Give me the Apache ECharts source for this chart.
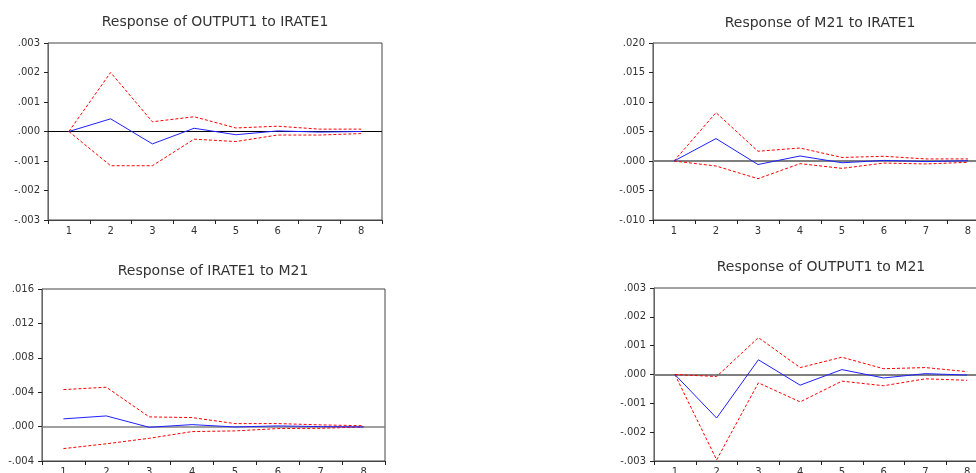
<!DOCTYPE html>
<html>
<head>
<meta charset="utf-8">
<script src="https://cdn.jsdelivr.net/npm/echarts@6/dist/echarts.min.js"></script>
<style>
html,body{margin:0;padding:0;background:#fff;}
#chart{width:976px;height:473px;}
</style>
</head>
<body>
<div id="chart"></div>
<script>
// ---- data ----
const periods = ['1','2','3','4','5','6','7','8'];

const titles = [
  'Response of OUTPUT1 to IRATE1',
  'Response of M21 to IRATE1',
  'Response of IRATE1 to M21',
  'Response of OUTPUT1 to M21'
];

// panel 1: OUTPUT1 to IRATE1
const p1Resp  = [0, 0.00043, -0.00042, 0.00011, -0.00011, 0.00002, -0.00002, 0.0000];
const p1Upper = [0, 0.00200, 0.00033, 0.00050, 0.00012, 0.00018, 0.00008, 0.00008];
const p1Lower = [0, -0.00116, -0.00116, -0.00026, -0.00034, -0.00012, -0.00012, -0.00007];

// panel 2: M21 to IRATE1
const p2Resp  = [0, 0.0038, -0.0006, 0.00085, -0.0003, 0.0001, -0.0001, 0.00005];
const p2Upper = [0, 0.0082, 0.00165, 0.0022, 0.0006, 0.0008, 0.00035, 0.00035];
const p2Lower = [0, -0.00085, -0.0030, -0.00045, -0.00125, -0.00035, -0.0005, -0.00022];

// panel 3: IRATE1 to M21
const p3Resp  = [0.0009, 0.00124, -0.00008, 0.00023, -0.00004, 0.00008, 0.0, -0.00004];
const p3Upper = [0.0043, 0.00458, 0.00113, 0.00105, 0.00035, 0.00035, 0.0002, 0.0001];
const p3Lower = [-0.00256, -0.0020, -0.00136, -0.00058, -0.0005, -0.00023, -0.0002, -0.00004];

// panel 4: OUTPUT1 to M21
const p4Resp  = [0, -0.00151, 0.00051, -0.00037, 0.00017, -0.00012, 0.00003, -0.00002];
const p4Upper = [0, -0.00007, 0.00128, 0.00024, 0.0006, 0.0002, 0.00024, 0.0001];
const p4Lower = [0, -0.00296, -0.00029, -0.00095, -0.00023, -0.00039, -0.00015, -0.0002];

// y-axis tick ranges [min, max, interval]
const yMins = [-0.003, -0.010, -0.004, -0.003];
const yMaxs = [0.003, 0.020, 0.016, 0.003];
const yIntervals = [0.001, 0.005, 0.004, 0.001];

const responses = [p1Resp, p2Resp, p3Resp, p4Resp];
const uppers = [p1Upper, p2Upper, p3Upper, p4Upper];
const lowers = [p1Lower, p2Lower, p3Lower, p4Lower];

// ---- layout ----
const grids = [
  {left: 48,  top: 43,  width: 334, height: 177},
  {left: 653, top: 43,  width: 336, height: 177},
  {left: 42,  top: 289, width: 343, height: 172},
  {left: 654, top: 288, width: 334, height: 173}
];
const xLabelMargins = [6, 6, 6, 6];
const titlePos = [[215, 22], [820, 23], [213, 271], [821, 267]];
const zeroColors = ['#000000', '#808080', '#808080', '#808080'];
const zeroWidths = [1, 2, 1.5, 2];

const FONT = 'DejaVu Sans';

function fmt(v) {
  if (Math.abs(v) < 1e-9) return '.000';
  const s = Math.abs(v).toFixed(3).replace(/^0/, '');
  return (v < 0 ? '-' : '') + s;
}

const option = {
  animation: false,
  backgroundColor: '#ffffff',
  grid: grids.map(g => Object.assign({
    show: true, borderColor: '#444', borderWidth: 1, backgroundColor: 'transparent',
    containLabel: false, outerBoundsMode: 'none'
  }, g)),
  xAxis: grids.map((g, i) => ({
    type: 'category',
    gridIndex: i,
    data: periods,
    boundaryGap: true,
    axisLine: {show: true, onZero: false, lineStyle: {color: '#444', width: 1}},
    axisTick: {show: true, inside: false, length: 4, alignWithLabel: false, lineStyle: {color: '#222'}},
    axisLabel: {show: true, margin: xLabelMargins[i], color: '#333', fontFamily: FONT, fontSize: 10, interval: 0},
    splitLine: {show: false}
  })),
  yAxis: grids.map((g, i) => ({
    type: 'value',
    gridIndex: i,
    min: yMins[i],
    max: yMaxs[i],
    interval: yIntervals[i],
    axisLine: {show: true, lineStyle: {color: '#666', width: 1}},
    axisTick: {show: true, inside: false, length: 4, lineStyle: {color: '#222'}},
    axisLabel: {show: true, margin: 8, color: '#333', fontFamily: FONT, fontSize: 10, formatter: fmt},
    splitLine: {show: false}
  })),
  graphic: titles.map((t, i) => ({
    type: 'text',
    x: titlePos[i][0],
    y: titlePos[i][1],
    silent: true,
    style: {
      text: t,
      fill: '#333',
      font: '14px "' + FONT + '"',
      textAlign: 'center',
      textVerticalAlign: 'middle'
    }
  })),
  series: []
};

for (let i = 0; i < 4; i++) {
  option.series.push({
    type: 'line',
    xAxisIndex: i, yAxisIndex: i,
    data: uppers[i],
    showSymbol: false, symbol: 'none',
    lineStyle: {color: '#ff0000', width: 1, type: [3, 2]},
    z: 3
  });
  option.series.push({
    type: 'line',
    xAxisIndex: i, yAxisIndex: i,
    data: lowers[i],
    showSymbol: false, symbol: 'none',
    lineStyle: {color: '#ff0000', width: 1, type: [3, 2]},
    z: 3
  });
  option.series.push({
    type: 'line',
    xAxisIndex: i, yAxisIndex: i,
    data: responses[i],
    showSymbol: false, symbol: 'none',
    lineStyle: {color: '#2020ff', width: 1},
    z: 4,
    markLine: {
      silent: true,
      symbol: ['none', 'none'],
      label: {show: false},
      lineStyle: {color: zeroColors[i], width: zeroWidths[i], type: 'solid'},
      data: [{yAxis: 0}],
      z: 2
    }
  });
}

const chart = echarts.init(document.getElementById('chart'), null, {renderer: 'canvas'});
chart.setOption(option);
</script>
</body>
</html>
